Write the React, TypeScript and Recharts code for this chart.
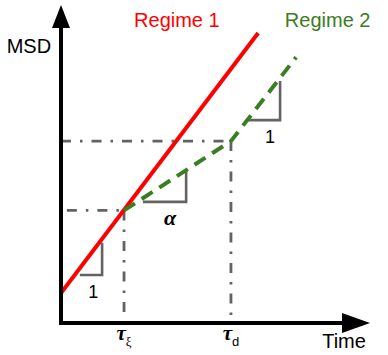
import React from 'react';
import { ComposedChart, Line, XAxis, YAxis, ReferenceLine, ReferenceDot } from 'recharts';

// crossover times (tau_xi, tau_d) and their MSD values
const crossTimes = [20.4, 55];
const crossMsd = [35.4, 57.2];

// regime 1: single straight line, slope 1 on log-log
const regime1 = [
  { t: 0, msd: 9.4 },
  { t: 63.8, msd: 91.2 },
];

// regime 2: sub-diffusive (alpha) then back to slope 1
const regime2 = [
  { t: crossTimes[0], msd: crossMsd[0] },
  { t: crossTimes[1], msd: crossMsd[1] },
  { t: 76.1, msd: 83.6 },
];

// slope triangles
const slopeMarks = [
  [{ t: 6.1, msd: 15.1 }, { t: 13.3, msd: 15.1 }, { t: 13.3, msd: 25.2 }],
  [{ t: 26.5, msd: 38.1 }, { t: 40.5, msd: 38.1 }, { t: 40.5, msd: 48.1 }],
  [{ t: 60.5, msd: 63.8 }, { t: 70.9, msd: 63.8 }, { t: 70.9, msd: 76.1 }],
];

const labels = [
  { t: 37.5, msd: 93.1, text: 'Regime 1', kind: 'r1' },
  { t: 86.3, msd: 93.1, text: 'Regime 2', kind: 'r2' },
  { t: -10.4, msd: 85.0, text: 'MSD', kind: 'axis' },
  { t: 91.6, msd: -7.9, text: 'Time', kind: 'axis' },
  { t: 10.4, msd: 7.9, text: '1', kind: 'one' },
  { t: 67.6, msd: 56.6, text: '1', kind: 'one' },
  { t: 35.3, msd: 30.8, text: 'α', kind: 'greek' },
];

const tauLabels = [
  { t: crossTimes[0], main: 'τ', sub: 'ξ' },
  { t: crossTimes[1], main: 'τ', sub: 'd' },
];

const RED = '#ff0000';
const GREEN = '#3b7d23';
const GRAY = '#636363';
const SANS = '"Liberation Sans", Arial, sans-serif';
const SERIF = '"Liberation Serif", "Times New Roman", serif';
const DASH_DOT = '10 9 2.5 9';

const labelStyle: Record<string, any> = {
  r1: { fill: RED, fontSize: 20, fontFamily: SANS },
  r2: { fill: GREEN, fontSize: 20, fontFamily: SANS },
  axis: { fill: '#000', fontSize: 20, fontFamily: SANS },
  one: { fill: '#000', fontSize: 18, fontFamily: SANS },
  greek: { fill: '#000', fontSize: 22, fontFamily: SERIF, fontStyle: 'italic', fontWeight: 'bold' },
};

const App: React.FC = () => {
  return (
    <div style={{ position: 'absolute', left: 0, top: 0, background: '#fff' }}>
      <ComposedChart width={388} height={355} margin={{ top: 5, right: 18, bottom: 32, left: 61 }}>
        <XAxis type="number" dataKey="t" domain={[0, 100]} hide allowDataOverflow />
        <YAxis type="number" dataKey="msd" domain={[0, 100]} hide allowDataOverflow />

        {/* dash-dot guides */}
        <ReferenceLine segment={[{ x: 1.9, y: crossMsd[0] }, { x: crossTimes[0], y: crossMsd[0] }]}
          stroke={GRAY} strokeWidth={2.8} strokeDasharray={DASH_DOT} ifOverflow="visible" />
        <ReferenceLine segment={[{ x: 0, y: crossMsd[1] }, { x: crossTimes[1], y: crossMsd[1] }]}
          stroke={GRAY} strokeWidth={2.8} strokeDasharray={DASH_DOT} ifOverflow="visible" />
        {crossTimes.map((t, i) => (
          <ReferenceLine key={`v-${i}`} segment={[{ x: t, y: crossMsd[i] }, { x: t, y: 0 }]}
            stroke={GRAY} strokeWidth={2.8} strokeDasharray={DASH_DOT} ifOverflow="visible" />
        ))}

        {slopeMarks.map((d, i) => (
          <Line key={`s-${i}`} data={d} dataKey="msd" type="linear" stroke={GRAY} strokeWidth={2.6}
            dot={false} isAnimationActive={false} />
        ))}

        <Line data={regime1} dataKey="msd" type="linear" stroke={RED} strokeWidth={4} dot={false} isAnimationActive={false} />
        <Line data={regime2} dataKey="msd" type="linear" stroke={GREEN} strokeWidth={4} strokeDasharray="13 8"
          dot={false} isAnimationActive={false} />

        {/* axes with arrow heads */}
        <ReferenceLine segment={[{ x: -0.6, y: 0 }, { x: 91, y: 0 }]} stroke="#000" strokeWidth={4} ifOverflow="visible" />
        <ReferenceLine segment={[{ x: 0, y: -0.6 }, { x: 0, y: 93 }]} stroke="#000" strokeWidth={4} ifOverflow="visible" />
        <ReferenceDot x={0} y={100} ifOverflow="visible"
          shape={(p: any) => <polygon points={`${p.cx},${p.cy} ${p.cx - 9},${p.cy + 23} ${p.cx + 9},${p.cy + 23}`} fill="#000" />} />
        <ReferenceDot x={100} y={0} ifOverflow="visible"
          shape={(p: any) => <polygon points={`${p.cx},${p.cy} ${p.cx - 28},${p.cy - 10} ${p.cx - 28},${p.cy + 10}`} fill="#000" />} />

        {labels.map((l, i) => (
          <ReferenceDot key={`l-${i}`} x={l.t} y={l.msd} ifOverflow="visible"
            shape={(p: any) => (
              <text x={p.cx} y={p.cy} textAnchor="middle" {...labelStyle[l.kind]}>{l.text}</text>
            )} />
        ))}
        {tauLabels.map((l, i) => (
          <ReferenceDot key={`tau-${i}`} x={l.t} y={-5.3} ifOverflow="visible"
            shape={(p: any) => (
              <text x={p.cx} y={p.cy} textAnchor="middle" fill="#000">
                <tspan fontFamily={SERIF} fontStyle="italic" fontWeight="bold" fontSize={21}>{l.main}</tspan>
                <tspan dy={6} fontFamily={l.sub === 'd' ? SANS : SERIF} fontSize={13}>{l.sub}</tspan>
              </text>
            )} />
        ))}
      </ComposedChart>
    </div>
  );
};

export default App;
